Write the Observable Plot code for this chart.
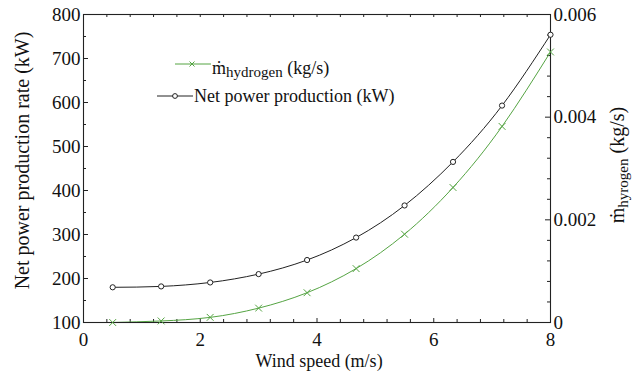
<!DOCTYPE html>
<html>
<head>
<meta charset="utf-8">
<script src="https://cdn.jsdelivr.net/npm/d3@7"></script>
<script src="https://cdn.jsdelivr.net/npm/@observablehq/plot@0.6"></script>
<style>
  body { margin: 0; background: #fff; }
  svg { display: block; }
  svg text { font-family: "Liberation Serif", "Times New Roman", serif; }
</style>
</head>
<body>
<div id="chart"></div>
<script>
// Wind speed (m/s) at each simulated operating point
const windSpeed = [0.5, 1.33, 2.17, 3.0, 3.83, 4.67, 5.5, 6.33, 7.17, 8.0];
// Net power production rate (kW), left axis
const netPower = [180, 182, 191, 210, 242, 293, 366, 465, 593, 754];
// Hydrogen mass flow rate (kg/s), right axis
const hydrogenRate = [0.0, 0.00003, 0.0001, 0.00028, 0.00058, 0.00105, 0.00172, 0.00263, 0.00382, 0.00527];

// Axis ticks
const speedTicks = [0, 2, 4, 6, 8];
const powerTicks = [100, 200, 300, 400, 500, 600, 700, 800];
const rateTicks = [0, 0.002, 0.004, 0.006];

const W = 641, H = 376;
const mL = 83, mR = 91, mT = 14, mB = 54;
const fw = W - mL - mR, fh = H - mT - mB;
const green = "#55a443";
const ink = "#222";

// The hydrogen rate shares the plot area: 0–0.006 kg/s spans 100–800 kW
const powerMin = 100, powerMax = 800, rateMax = 0.006;
const toPower = v => powerMin + v * (powerMax - powerMin) / rateMax;
const toRate = p => (p - powerMin) * rateMax / (powerMax - powerMin);

const rows = windSpeed.map((s, i) => ({ s, p: netPower[i], h: toPower(hydrogenRate[i]) }));

// minor tick positions
const speedMinor = d3.range(0.4, 8, 0.4).filter(v => Math.abs(v / 2 - Math.round(v / 2)) > 1e-6);
const powerMinor = d3.range(150, 800, 100);
const rateMinor = d3.range(0.0004, 0.006, 0.0004).filter(v => Math.abs(v / 0.002 - Math.round(v / 0.002)) > 1e-6).map(toPower);

const chart = Plot.plot({
  width: W, height: H,
  marginLeft: mL, marginRight: mR, marginTop: mT, marginBottom: mB,
  style: { fontSize: "19px", color: "#111", background: "#fff", overflow: "visible" },
  x: { domain: [0, 8] },
  y: { domain: [powerMin, powerMax] },
  marks: [
    // tick labels
    Plot.axisX({ ticks: speedTicks, tickSize: 0, tickPadding: 10, tickFormat: d => String(d), label: null }),
    Plot.axisY({ ticks: powerTicks, tickSize: 0, tickPadding: 3, tickFormat: d => String(d), label: null }),
    Plot.axisY({
      anchor: "right", ticks: rateTicks.map(toPower), tickSize: 0, tickPadding: 3, label: null,
      tickFormat: d => { const r = Math.round(toRate(d) * 1e4) / 1e4; return r === 0 ? "0" : r.toFixed(3); }
    }),
    // inward tick marks: left
    Plot.tickY(powerTicks, { y: d => d, insetRight: fw - 5, stroke: ink }),
    Plot.tickY(powerMinor, { y: d => d, insetRight: fw - 3, stroke: ink }),
    // right
    Plot.tickY(rateTicks.map(toPower), { y: d => d, insetLeft: fw - 5, stroke: ink }),
    Plot.tickY(rateMinor, { y: d => d, insetLeft: fw - 3, stroke: ink }),
    // bottom
    Plot.tickX(speedTicks, { x: d => d, insetTop: fh - 4, stroke: ink }),
    Plot.tickX(speedMinor, { x: d => d, insetTop: fh - 3, stroke: ink }),
    // top
    Plot.tickX(speedMinor.concat(speedTicks), { x: d => d, insetBottom: fh - 3, stroke: ink }),
    Plot.frame({ stroke: ink, strokeWidth: 1.1 }),
    // hydrogen mass flow
    Plot.line(rows, { x: "s", y: "h", curve: "natural", stroke: green, strokeWidth: 1, clip: true }),
    Plot.dot(rows, { x: "s", y: "h", symbol: "times", r: 3.2, stroke: green, strokeWidth: 1 }),
    // net power
    Plot.line(rows, { x: "s", y: "p", curve: "natural", stroke: ink, strokeWidth: 1 }),
    Plot.dot(rows, { x: "s", y: "p", r: 2.6, stroke: ink, fill: "white", strokeWidth: 1 }),
    // axis titles
    Plot.text(["Wind speed (m/s)"], { text: d => d, frameAnchor: "bottom", textAnchor: "middle", dx: 2, dy: 44, fontSize: 18, fill: "#111" }),
    Plot.text(["Net power production rate (kW)"], { text: d => d, frameAnchor: "left", textAnchor: "middle", rotate: -90, dx: -61, dy: -8, fontSize: 20, fill: "#111" })
  ]
});

const svg = d3.select(chart);

// right-hand axis title with subscript
const rt = svg.append("text")
  .attr("transform", "translate(624,165) rotate(-90)")
  .attr("text-anchor", "middle")
  .attr("font-size", 20)
  .attr("fill", "#111");
rt.append("tspan").text("ṁ");
rt.append("tspan").attr("font-size", 15).attr("dy", 4).text("hyrogen");
rt.append("tspan").attr("dy", -4).text(" (kg/s)");

// legend
const lg = svg.append("g").attr("font-size", 18).attr("fill", "#111").attr("text-anchor", "start");
lg.append("line").attr("x1", 175).attr("x2", 211).attr("y1", 64).attr("y2", 64).attr("stroke", green);
lg.append("path").attr("d", "M189.5,61.5L194.5,66.5M189.5,66.5L194.5,61.5").attr("stroke", green).attr("fill", "none");
const lt = lg.append("text").attr("x", 212).attr("y", 74);
lt.append("tspan").text("ṁ");
lt.append("tspan").attr("font-size", 15).attr("dy", 3).text("hydrogen");
lt.append("tspan").attr("dy", -3).text(" (kg/s)");

lg.append("line").attr("x1", 157).attr("x2", 193).attr("y1", 96).attr("y2", 96).attr("stroke", ink);
lg.append("circle").attr("cx", 175).attr("cy", 96).attr("r", 2.4).attr("stroke", ink).attr("fill", "white");
lg.append("text").attr("x", 194).attr("y", 102).text("Net power production (kW)");

document.getElementById("chart").appendChild(chart);
</script>
</body>
</html>
